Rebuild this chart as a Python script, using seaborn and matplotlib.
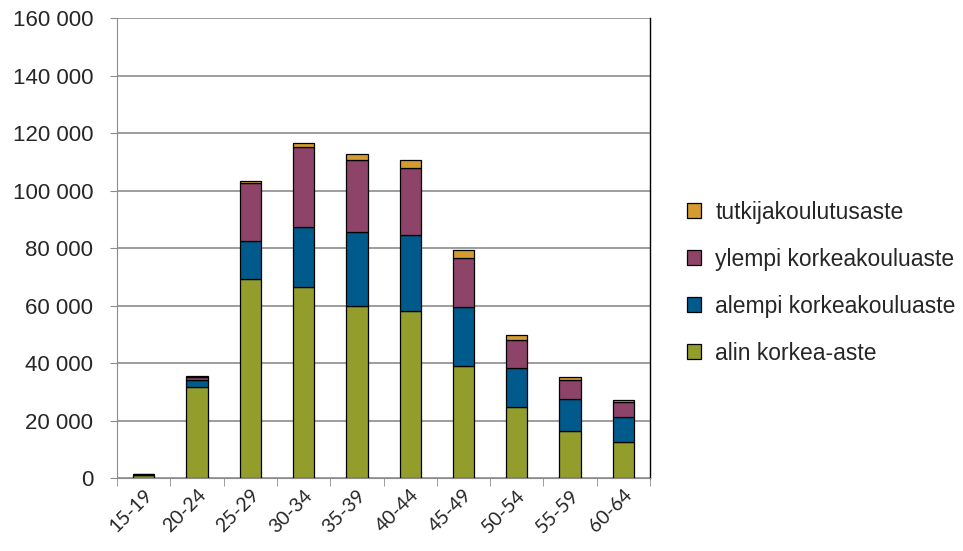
import numpy as np
import pandas as pd
import seaborn as sns
import matplotlib.pyplot as plt
from matplotlib.ticker import FuncFormatter, FixedLocator

# Age groups and counts per education level
age_groups = ['15-19', '20-24', '25-29', '30-34', '35-39', '40-44', '45-49', '50-54', '55-59', '60-64']
alin = [1200, 31800, 69100, 66500, 59800, 58000, 39000, 24600, 16200, 12400]
alempi = [0, 2300, 13200, 20900, 25900, 26400, 20400, 13800, 11200, 8700]
ylempi = [100, 900, 20400, 27800, 24900, 23500, 17100, 9600, 6700, 5200]
tutkija = [0, 400, 500, 1300, 2100, 2700, 2700, 1700, 1000, 800]

series = [
    ('alin korkea-aste', alin, '#929D2B'),
    ('alempi korkeakouluaste', alempi, '#005A8C'),
    ('ylempi korkeakouluaste', ylempi, '#8E4468'),
    ('tutkijakoulutusaste', tutkija, '#D39B32'),
]

sns.set_style('white')
plt.rcParams['font.family'] = ['Liberation Sans', 'DejaVu Sans']

fig = plt.figure(figsize=(9.63, 5.51), dpi=100)
ax = fig.add_axes([0.1215, 0.1325, 0.5535, 0.8345])

bottom = np.zeros(len(age_groups))
for name, vals, col in series:
    df = pd.DataFrame({'ika': age_groups, 'n': vals})
    sns.barplot(data=df, x='ika', y='n', color=col, saturation=1, width=0.4, bottom=bottom,
                edgecolor='black', linewidth=0.9, label=name, legend=False, ax=ax, zorder=3)
    bottom = bottom + np.array(vals)

ax.set_ylim(0, 160000)
ax.set_xlim(-0.5, 9.5)
ax.set_yticks(np.arange(0, 160001, 20000))
ax.yaxis.set_major_formatter(FuncFormatter(lambda v, p: f'{v:,.0f}'.replace(',', ' ')))
ax.grid(axis='y', color='#8c8c8c', linewidth=1.2, zorder=0)
ax.set_axisbelow(True)
ax.set_xlabel('')
ax.set_ylabel('')

ax.tick_params(axis='y', labelsize=16, length=5, color='#8c8c8c', left=True, pad=12)
ax.tick_params(axis='x', which='major', length=0, pad=6)
ax.xaxis.set_minor_locator(FixedLocator(np.arange(-0.5, 10, 1)))
ax.tick_params(axis='x', which='minor', length=6, color='#8c8c8c', bottom=True)
for lab in ax.get_xticklabels():
    lab.set_rotation(45)
    lab.set_ha('right')
    lab.set_rotation_mode('anchor')
    lab.set_fontsize(14)
    lab.set_family(['Lato', 'DejaVu Sans'])

ax.spines['top'].set_visible(False)
ax.spines['left'].set_color('#8c8c8c')
ax.spines['bottom'].set_color('#8c8c8c')
ax.spines['right'].set_color('black')
ax.spines['right'].set_linewidth(1.0)

handles = [plt.Rectangle((0, 0), 1, 1, facecolor=c, edgecolor='black', linewidth=0.9)
           for _, _, c in series][::-1]
labels = [n for n, _, _ in series][::-1]
fig.legend(handles, labels, loc='center left', bbox_to_anchor=(0.6915, 0.487),
           frameon=False, fontsize=16.5, handlelength=0.65, handleheight=0.65,
           labelspacing=1.05, handletextpad=0.6)

fig.savefig('out.png', dpi=100)
